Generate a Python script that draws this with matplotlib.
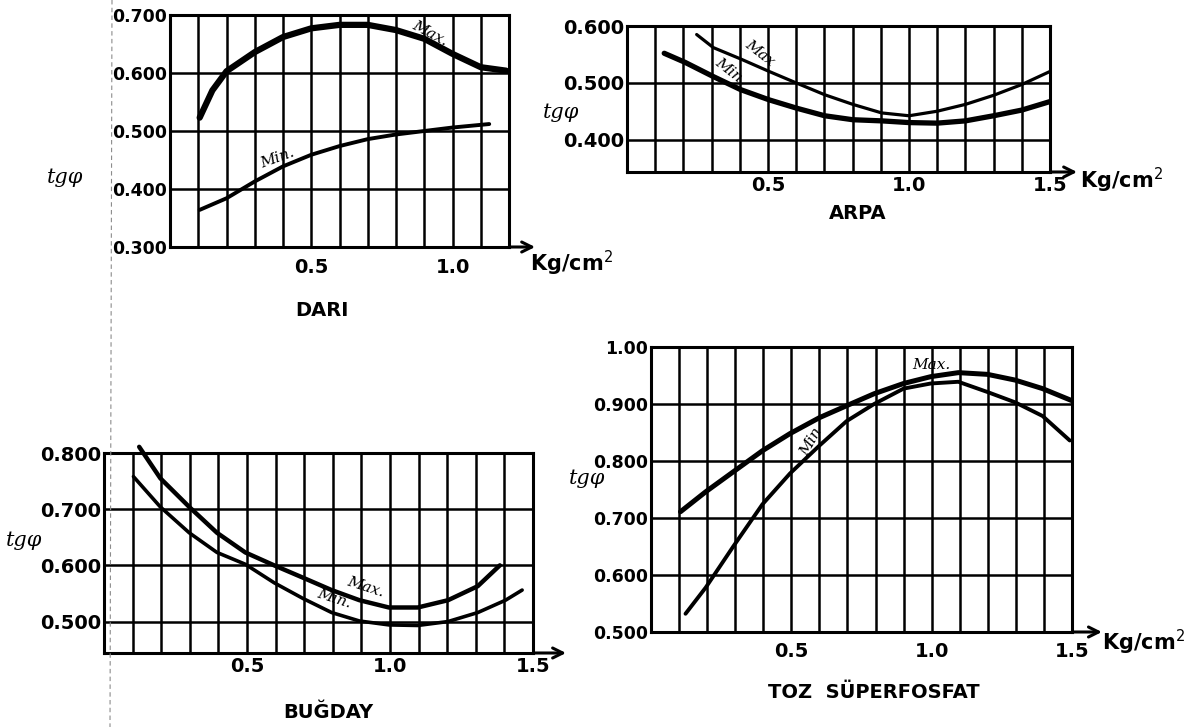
import numpy as np
import matplotlib
matplotlib.use("Agg")
import matplotlib.pyplot as plt
from matplotlib.lines import Line2D

# --- data (tg phi vs load, Kg/cm2) ---
dari_x_max = [0.105, 0.15, 0.2, 0.3, 0.4, 0.5, 0.6, 0.7, 0.8, 0.9, 1.0, 1.1, 1.19]
dari_max = [0.523, 0.570, 0.603, 0.636, 0.662, 0.677, 0.683, 0.683, 0.674, 0.659, 0.633, 0.610, 0.604]
dari_x_min = [0.105, 0.2, 0.3, 0.4, 0.5, 0.6, 0.7, 0.8, 0.9, 1.0, 1.13]
dari_min = [0.364, 0.384, 0.413, 0.439, 0.459, 0.474, 0.486, 0.494, 0.500, 0.506, 0.512]

arpa_x_max = [0.247, 0.306, 0.403, 0.504, 0.604, 0.701, 0.801, 0.903, 1.0, 1.1, 1.2, 1.3, 1.4, 1.5]
arpa_max = [0.585, 0.562, 0.542, 0.520, 0.499, 0.479, 0.462, 0.447, 0.442, 0.450, 0.462, 0.478, 0.497, 0.520]
arpa_x_min = [0.132, 0.206, 0.306, 0.403, 0.504, 0.604, 0.701, 0.801, 0.903, 1.0, 1.1, 1.2, 1.3, 1.4, 1.5]
arpa_min = [0.552, 0.536, 0.511, 0.488, 0.470, 0.455, 0.442, 0.435, 0.433, 0.430, 0.429, 0.433, 0.442, 0.452, 0.467]

bugday_x_max = [0.123, 0.197, 0.298, 0.395, 0.494, 0.595, 0.696, 0.796, 0.893, 0.996, 1.097, 1.203, 1.307, 1.384]
bugday_max = [0.811, 0.755, 0.704, 0.658, 0.623, 0.600, 0.578, 0.556, 0.538, 0.525, 0.525, 0.538, 0.563, 0.600]
bugday_x_min = [0.103, 0.197, 0.298, 0.395, 0.494, 0.595, 0.696, 0.796, 0.893, 0.996, 1.097, 1.203, 1.307, 1.404, 1.462]
bugday_min = [0.758, 0.704, 0.658, 0.623, 0.602, 0.569, 0.541, 0.516, 0.501, 0.494, 0.493, 0.500, 0.516, 0.538, 0.556]

toz_x_max = [0.105, 0.195, 0.293, 0.397, 0.495, 0.600, 0.697, 0.795, 0.900, 0.997, 1.095, 1.199, 1.297, 1.395, 1.499]
toz_max = [0.711, 0.746, 0.781, 0.818, 0.848, 0.876, 0.897, 0.918, 0.936, 0.948, 0.955, 0.952, 0.942, 0.927, 0.906]
toz_x_min = [0.123, 0.195, 0.293, 0.397, 0.495, 0.600, 0.697, 0.795, 0.900, 0.997, 1.095, 1.199, 1.297, 1.395, 1.492]
toz_min = [0.532, 0.578, 0.650, 0.724, 0.778, 0.827, 0.870, 0.900, 0.927, 0.936, 0.939, 0.921, 0.903, 0.879, 0.836]

dari_yticks = [0.3, 0.4, 0.5, 0.6, 0.7]
dari_ylabels = ["0.300", "0.400", "0.500", "0.600", "0.700"]
arpa_yticks = [0.4, 0.5, 0.6]
arpa_ylabels = ["0.400", "0.500", "0.600"]
bugday_yticks = [0.5, 0.6, 0.7, 0.8]
bugday_ylabels = ["0.500", "0.600", "0.700", "0.800"]
toz_yticks = [0.5, 0.6, 0.7, 0.8, 0.9, 1.0]
toz_ylabels = ["0.500", "0.600", "0.700", "0.800", "0.900", "1.00"]

W, H = 1195, 727
fig = plt.figure(figsize=(W / 100, H / 100), dpi=100)
fig.patch.set_facecolor("white")


def rect(l, r, t, b):
    return [l / W, 1 - b / H, (r - l) / W, (b - t) / H]


def panel(pos, xmax, ylim, yticks, ylabels, ysize, xticks, xpad, ylab_xy, arrow_x):
    ax = fig.add_axes(pos)
    ax.set_xlim(0, xmax)
    ax.set_ylim(*ylim)
    ax.set_xticks(np.arange(0.1, xmax - 0.01, 0.1), minor=True)
    ax.set_xticks(xticks)
    ax.set_xticklabels([f"{v:.1f}" for v in xticks], fontsize=14, fontweight="bold")
    ax.set_yticks(yticks)
    ax.set_yticklabels(ylabels, fontsize=ysize, fontweight="bold")
    ax.tick_params(which="both", length=0)
    ax.tick_params(axis="x", pad=xpad)
    ax.tick_params(axis="y", pad=2)
    ax.grid(which="both", axis="x", color="black", lw=1.8)
    ax.grid(axis="y", color="black", lw=1.8)
    for s in ax.spines.values():
        s.set_linewidth(2.2)
    ax.annotate("", xy=(arrow_x, 0), xytext=(1.0, 0), xycoords="axes fraction",
                arrowprops=dict(arrowstyle="->", lw=2.2, color="black",
                                mutation_scale=18, shrinkA=0, shrinkB=0),
                annotation_clip=False)
    ax.text(ylab_xy[0], ylab_xy[1], "tgφ", transform=ax.transAxes, fontsize=15,
            family="DejaVu Serif", style="italic", ha="center", va="center")
    return ax


def note(ax, x, y, s, rot):
    ax.text(x, y, s, fontsize=11, family="DejaVu Serif", style="italic",
            rotation=rot, ha="center", va="center")


def unit(ax, x, y):
    ax.text(x, y, "Kg/cm$^2$", transform=ax.transAxes, fontsize=15,
            fontweight="bold", va="center")


def title(ax, x, y, s):
    ax.text(x, y, s, transform=ax.transAxes, fontsize=14, fontweight="bold",
            ha="center", va="center")


# DARI
ax1 = panel(rect(170, 509, 15, 247), 1.2, (0.3, 0.7), dari_yticks, dari_ylabels, 12.5,
            [0.5, 1.0], 8, (-0.31, 0.30), 1.077)
ax1.plot(dari_x_max, dari_max, color="black", lw=4.5, solid_capstyle="round")
ax1.plot(dari_x_min, dari_min, color="black", lw=2.8, solid_capstyle="round")
note(ax1, 0.92, 0.669, "Max.", -28)
note(ax1, 0.38, 0.453, "Min.", 20)
unit(ax1, 1.062, -0.07)
title(ax1, 0.448, -0.272, "DARI")

# ARPA
ax2 = panel(rect(627, 1050, 26, 172), 1.5, (0.343, 0.6), arpa_yticks, arpa_ylabels, 14,
            [0.5, 1.0, 1.5], 3, (-0.156, 0.41), 1.064)
ax2.plot(arpa_x_max, arpa_max, color="black", lw=2.3, solid_capstyle="round")
ax2.plot(arpa_x_min, arpa_min, color="black", lw=3.8, solid_capstyle="round")
note(ax2, 0.47, 0.552, "Max", -38)
note(ax2, 0.36, 0.523, "Min", -38)
unit(ax2, 1.071, -0.06)
title(ax2, 0.546, -0.281, "ARPA")

# BUGDAY
ax3 = panel(rect(104, 533, 453, 653), 1.5, (0.444, 0.8), bugday_yticks, bugday_ylabels, 14,
            [0.5, 1.0, 1.5], 3, (-0.186, 0.565), 1.077)
ax3.plot(bugday_x_max, bugday_max, color="black", lw=3.2, solid_capstyle="round", clip_on=False)
ax3.plot(bugday_x_min, bugday_min, color="black", lw=2.6, solid_capstyle="round")
note(ax3, 0.914, 0.562, "Max.", -18)
note(ax3, 0.805, 0.540, "Min.", -18)
title(ax3, 0.524, -0.295, "BUĞDAY")

# TOZ SUPERFOSFAT
ax4 = panel(rect(651, 1072, 347, 632), 1.5, (0.5, 1.0), toz_yticks, toz_ylabels, 12.5,
            [0.5, 1.0, 1.5], 7, (-0.152, 0.54), 1.071)
ax4.plot(toz_x_max, toz_max, color="black", lw=3.6, solid_capstyle="round")
ax4.plot(toz_x_min, toz_min, color="black", lw=2.8, solid_capstyle="round")
note(ax4, 1.0, 0.968, "Max.", 0)
note(ax4, 0.57, 0.833, "Min", 60)
unit(ax4, 1.071, -0.035)
title(ax4, 0.530, -0.214, "TOZ  SÜPERFOSFAT")

# faint fold line of the scanned page
fig.add_artist(Line2D([112 / W, 110 / W], [1, 0], color="0.55", lw=0.8, ls=(0, (4, 3))))

fig.savefig("out.png", dpi=100, facecolor="white")
